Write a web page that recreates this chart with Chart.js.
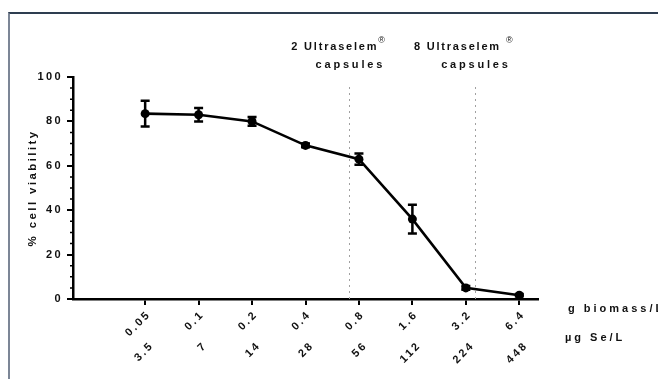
<!DOCTYPE html>
<html>
<head>
<meta charset="utf-8">
<script src="https://cdn.jsdelivr.net/npm/chart.js@4.4.1/dist/chart.umd.min.js"></script>
<style>
html, body { margin: 0; padding: 0; background: #fff; }
#frame { position: absolute; left: 8px; top: 12px; width: 650px; height: 367px; box-sizing: border-box;
         border-top: 2px solid #2e3d50; border-left: 2px solid #7c8696; }
#wrap { position: absolute; left: 0; top: 0; width: 658px; height: 379px; }
</style>
</head>
<body>
<div id="frame"></div>
<div id="wrap"><canvas id="viability_chart"></canvas></div>
<script>
// DATA
const dose_index = [0, 1, 2, 3, 4, 5, 6, 7];
const biomass_labels = ['0.05', '0.1', '0.2', '0.4', '0.8', '1.6', '3.2', '6.4'];
const selenium_labels = ['3.5', '7', '14', '28', '56', '112', '224', '448'];
const viability = [83.5, 83, 80, 69.2, 63, 36, 5, 1.7];
const viability_err = [5.8, 3, 2, 0.8, 2.5, 6.5, 0.8, 0.5];
const capsule_names = ['2 Ultraselem', '8 Ultraselem'];
const capsule_pos = [3.82, 6.17];

const FONT = "'Liberation Sans', Arial, sans-serif";
Chart.defaults.font.family = FONT;
Chart.defaults.color = '#111';

const ctx = document.getElementById('viability_chart').getContext('2d');

// letter spaced text like the original figure
const spacing_plugin = {
	id: 'spacing',
	beforeLayout(chart) { chart.ctx.letterSpacing = '2.4px'; },
	beforeDraw(chart) { chart.ctx.letterSpacing = '2.4px'; }
};

// error bars, capsule lines, minor ticks, side titles
const extras_plugin = {
	id: 'extras',
	beforeDatasetsDraw(chart) {
		const c = chart.ctx;
		const area = chart.chartArea;
		const x = chart.scales.x, y = chart.scales.y;
		c.save();

		// dotted capsule lines
		c.strokeStyle = '#a0a0a0';
		c.lineWidth = 1;
		c.setLineDash([2, 4]);
		capsule_pos.forEach(p => {
			const px = Math.round(x.getPixelForValue(p)) + 0.5;
			c.beginPath();
			c.moveTo(px, y.getPixelForValue(0));
			c.lineTo(px, y.getPixelForValue(97));
			c.stroke();
		});
		c.setLineDash([]);

		// error bars
		c.strokeStyle = '#000';
		c.lineWidth = 2.5;
		viability.forEach((v, i) => {
			const px = x.getPixelForValue(dose_index[i]);
			const top = y.getPixelForValue(v + viability_err[i]);
			const bot = y.getPixelForValue(v - viability_err[i]);
			c.beginPath();
			c.moveTo(px, top); c.lineTo(px, bot);
			c.moveTo(px - 4.5, top); c.lineTo(px + 4.5, top);
			c.moveTo(px - 4.5, bot); c.lineTo(px + 4.5, bot);
			c.stroke();
		});

		// minor y ticks
		c.lineWidth = 1.5;
		c.beginPath();
		for (let v = 5; v < 100; v += 5) {
			if (v % 20 === 0) continue;
			const py = y.getPixelForValue(v);
			c.moveTo(area.left - 3, py);
			c.lineTo(area.left, py);
		}
		c.stroke();
		c.restore();
	},
	afterDraw(chart) {
		const c = chart.ctx;
		const area = chart.chartArea;
		const x = chart.scales.x;
		c.save();
		c.fillStyle = '#111';
		c.textBaseline = 'middle';

		// capsule labels
		capsule_names.forEach((name, i) => {
			const px = x.getPixelForValue(capsule_pos[i]);
			c.font = 'bold 11px ' + FONT;
			c.letterSpacing = '1.8px';
			c.textAlign = 'right';
			c.fillText(name, px + (i ? 26 : 29), area.top - 30);
			c.letterSpacing = '2.8px';
			c.textAlign = 'center';
			c.fillText('capsules', px + 1, area.top - 12);
			c.letterSpacing = '0px';
			c.font = '9px ' + FONT;
			c.textAlign = 'left';
			c.fillText('\u00AE', px + (i ? 31 : 29), area.top - 36);
		});

		// side titles of the two dose rows
		c.letterSpacing = '3px';
		c.font = 'bold 11px ' + FONT;
		c.textAlign = 'left';
		c.fillText('g biomass/L', area.right + 30, area.bottom + 10);
		c.fillText('\u00B5g Se/L', area.right + 27, area.bottom + 39);
		c.restore();
	}
};

const x_min = -1.35, x_max = 7.35;

const my_chart = new Chart(ctx, {
	type: 'line',
	data: {
		datasets: [{
			data: dose_index.map((d, i) => ({ x: d, y: viability[i] })),
			borderColor: '#000',
			borderWidth: 2.6,
			backgroundColor: '#000',
			pointRadius: 4.5,
			pointHoverRadius: 4.5,
			pointBackgroundColor: '#000',
			pointBorderWidth: 0,
			tension: 0
		}]
	},
	options: {
		responsive: true,
		maintainAspectRatio: false,
		animation: false,
		events: [],
		layout: { padding: { left: 0, right: 120, top: 77, bottom: 10 } },
		plugins: { legend: { display: false }, tooltip: { enabled: false } },
		scales: {
			x: {
				type: 'linear',
				position: 'bottom',
				min: x_min,
				max: x_max,
				afterBuildTicks: scale => { scale.ticks = dose_index.map(v => ({ value: v })); },
				afterFit: scale => { scale.height = 41; },
				grid: { display: true, drawOnChartArea: false, color: '#000', lineWidth: 2, tickLength: 6 },
				border: { color: '#000', width: 2.5 },
				ticks: {
					autoSkip: false,
					minRotation: 45,
					maxRotation: 45,
					padding: 3,
					labelOffset: 4,
					font: { size: 11, weight: 'bold' },
					callback: (v, i) => biomass_labels[i]
				}
			},
			x2: {
				type: 'linear',
				position: 'bottom',
				min: x_min,
				max: x_max,
				afterBuildTicks: scale => { scale.ticks = dose_index.map(v => ({ value: v })); },
				afterFit: scale => { scale.height = 29; },
				grid: { display: false },
				border: { display: false },
				ticks: {
					autoSkip: false,
					minRotation: 45,
					maxRotation: 45,
					padding: -9,
					labelOffset: 7,
					font: { size: 11, weight: 'bold' },
					callback: (v, i) => selenium_labels[i]
				}
			},
			y: {
				min: 0,
				max: 100,
				afterFit: scale => { scale.width = 73; },
				grid: { display: true, drawOnChartArea: false, color: '#000', lineWidth: 2, tickLength: 6 },
				border: { color: '#000', width: 2.5 },
				ticks: { stepSize: 20, padding: 4, font: { size: 11, weight: 'bold' } },
				title: {
					display: true,
					text: '% cell viability',
					padding: { top: 26, bottom: 0 },
					font: { size: 11.5, weight: 'bold' }
				}
			}
		}
	},
	plugins: [spacing_plugin, extras_plugin]
});
</script>
</body>
</html>
